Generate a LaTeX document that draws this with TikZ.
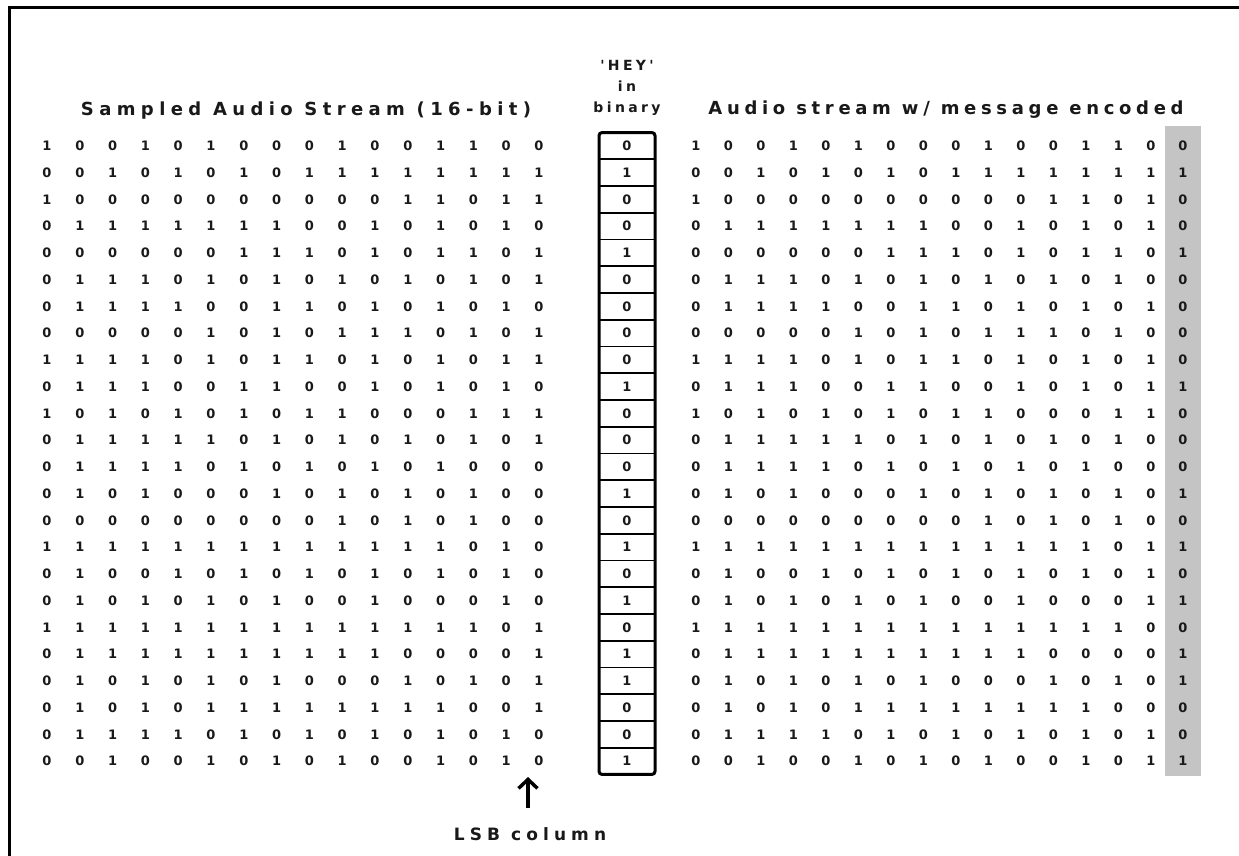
\documentclass[tikz,border=0pt]{standalone}
\usepackage{fontspec}
\setmainfont{DejaVu Sans}
\newfontfamily\digitfont{DejaVu Sans Bold}
\newfontfamily\titlefontA[LetterSpace=30]{DejaVu Sans Bold}
\newfontfamily\titlefontB[LetterSpace=26]{DejaVu Sans Bold}
\newfontfamily\smallfont[LetterSpace=24]{DejaVu Sans Bold}
\usetikzlibrary{arrows.meta}
\definecolor{ink}{RGB}{25,25,25}
\definecolor{lsbgray}{RGB}{196,196,196}
\begin{document}
\begin{tikzpicture}[x=1pt,y=-1pt,
  digit/.style={font=\digitfont\fontsize{13}{14}\selectfont, text=ink, inner sep=0pt},
  lefttitle/.style={font=\titlefontA\fontsize{18}{20}\selectfont, text=ink, inner sep=0pt, anchor=base},
  righttitle/.style={font=\titlefontB\fontsize{18}{20}\selectfont, text=ink, inner sep=0pt, anchor=base},
  smalltitle/.style={font=\smallfont\fontsize{14}{16}\selectfont, text=ink, inner sep=0pt, anchor=base},
  lsblabel/.style={font=\titlefontA\fontsize{17}{19}\selectfont, text=ink, inner sep=0pt, anchor=base},
  frameline/.style={line width=3pt, draw=black},
  heybox/.style={line width=3pt, draw=black, rounded corners=3pt},
  heysep/.style={line width=1.8pt, draw=black},
  lsbarrow/.style={line width=3.5pt, draw=black, -{Straight Barb[length=9pt,width=19pt]}},
]
\useasboundingbox (0,0) rectangle (1239,856);
\fill[white] (0,0) rectangle (1239,856);
% frame (top and left edges)
\draw[frameline] (9.5,856) -- (9.5,7.5) -- (1239,7.5);
% highlighted LSB column of encoded stream
\fill[lsbgray] (1165,126) rectangle (1201,776);
% headings
\node[lefttitle] (ttl) at (306,116) {Sampled Audio Stream (16-bit)};
\node[righttitle] (ttr) at (946,114) {Audio stream w/ message encoded};
\node[smalltitle] (hey) at (627,71) {'HEY'};
\node[smalltitle] (in) at (627,92) {in};
\node[smalltitle] (bin) at (627,113) {binary};
% grids
\foreach \row [count=\r] in {
 {1,0,0,1,0,1,0,0,0,1,0,0,1,1,0,0},
 {0,0,1,0,1,0,1,0,1,1,1,1,1,1,1,1},
 {1,0,0,0,0,0,0,0,0,0,0,1,1,0,1,1},
 {0,1,1,1,1,1,1,1,0,0,1,0,1,0,1,0},
 {0,0,0,0,0,0,1,1,1,0,1,0,1,1,0,1},
 {0,1,1,1,0,1,0,1,0,1,0,1,0,1,0,1},
 {0,1,1,1,1,0,0,1,1,0,1,0,1,0,1,0},
 {0,0,0,0,0,1,0,1,0,1,1,1,0,1,0,1},
 {1,1,1,1,0,1,0,1,1,0,1,0,1,0,1,1},
 {0,1,1,1,0,0,1,1,0,0,1,0,1,0,1,0},
 {1,0,1,0,1,0,1,0,1,1,0,0,0,1,1,1},
 {0,1,1,1,1,1,0,1,0,1,0,1,0,1,0,1},
 {0,1,1,1,1,0,1,0,1,0,1,0,1,0,0,0},
 {0,1,0,1,0,0,0,1,0,1,0,1,0,1,0,0},
 {0,0,0,0,0,0,0,0,0,1,0,1,0,1,0,0},
 {1,1,1,1,1,1,1,1,1,1,1,1,1,0,1,0},
 {0,1,0,0,1,0,1,0,1,0,1,0,1,0,1,0},
 {0,1,0,1,0,1,0,1,0,0,1,0,0,0,1,0},
 {1,1,1,1,1,1,1,1,1,1,1,1,1,1,0,1},
 {0,1,1,1,1,1,1,1,1,1,1,0,0,0,0,1},
 {0,1,0,1,0,1,0,1,0,0,0,1,0,1,0,1},
 {0,1,0,1,0,1,1,1,1,1,1,1,1,0,0,1},
 {0,1,1,1,1,0,1,0,1,0,1,0,1,0,1,0},
 {0,0,1,0,0,1,0,1,0,1,0,0,1,0,1,0}} {
  \foreach \d [count=\c] in \row {
    \node[digit] (L-\r-\c) at ({47+(\c-1)*32.8},{146+(\r-1)*26.74}) {\d};
    \ifnum\c<16
      \node[digit] (R-\r-\c) at ({696+(\c-1)*32.5},{146+(\r-1)*26.74}) {\d};
    \fi
  }
}
% HEY bits: middle column and LSB column of the encoded stream
\foreach \b [count=\r] in {0,1,0,0,1,0,0,0,0,1,0,0,0,1,0,1,0,1,0,1,1,0,0,1} {
  \node[digit] (M-\r) at (627,{146+(\r-1)*26.74}) {\b};
  \node[digit] (R-\r-16) at (1183,{146+(\r-1)*26.74}) {\b};
}
\foreach \r in {1,...,23} {
  \draw[heysep] (598,{132.6+\r*26.74}) -- (656,{132.6+\r*26.74});
}
\draw[heybox] (599,132.6) rectangle (655,774.4);
% LSB label and arrow
\node[lsblabel] (lsb) at (530,840) {LSB column};
\coordinate (lsbtail) at (528,808);
\coordinate (lsbtip) at (528,777);
\draw[lsbarrow] (lsbtail) -- (lsbtip);
\end{tikzpicture}
\end{document}
